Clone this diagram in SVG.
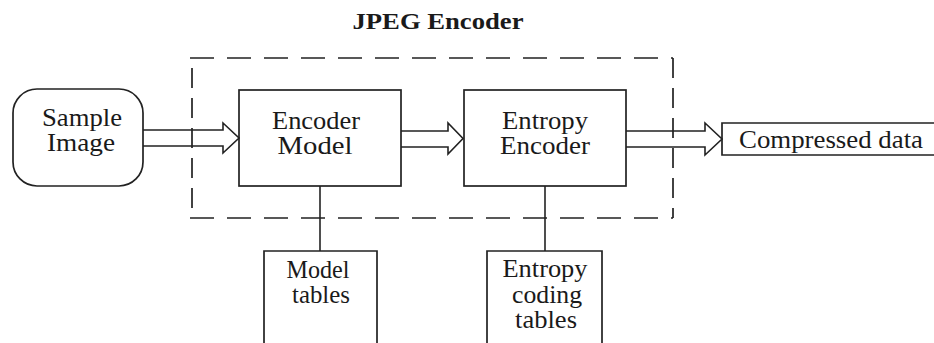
<svg xmlns="http://www.w3.org/2000/svg" width="934" height="343" viewBox="0 0 934 343">
<style>
.box{fill:none;stroke:#222;stroke-width:1.7}
.dash{fill:none;stroke:#222;stroke-width:1.7;stroke-dasharray:24 13}
.vdash{fill:none;stroke:#222;stroke-width:1.7;stroke-dasharray:20 10}
.conn{fill:none;stroke:#222;stroke-width:1.6;stroke-linejoin:miter}
.t{font-family:"Liberation Serif","Times New Roman",serif;font-size:25px;fill:#1a1a1a;text-anchor:middle}
.title{font-family:"Liberation Serif","Times New Roman",serif;font-size:24px;font-weight:bold;fill:#1a1a1a;text-anchor:middle}
</style>
<rect width="934" height="343" fill="#fff"/>
<g id="jpeg-encoder-boundary">
<text class="title" x="438" y="29" textLength="171" lengthAdjust="spacingAndGlyphs">JPEG Encoder</text>
<path class="dash" d="M190,58 H673"/>
<path class="dash" d="M190,218 H673"/>
<path class="vdash" d="M192,68 V218"/>
<path class="vdash" d="M673,58 V218"/>
</g>
<g id="sample-image">
<rect class="box" x="13" y="89" width="130" height="97" rx="24" ry="24"/>
<text class="t" x="82" y="126" textLength="80" lengthAdjust="spacingAndGlyphs">Sample</text>
<text class="t" x="81" y="151" textLength="68" lengthAdjust="spacingAndGlyphs">Image</text>
</g>
<g id="encoder-model">
<rect class="box" x="239" y="90" width="162" height="96"/>
<text class="t" x="316" y="129" textLength="88" lengthAdjust="spacingAndGlyphs">Encoder</text>
<text class="t" x="315" y="154" textLength="75" lengthAdjust="spacingAndGlyphs">Model</text>
</g>
<g id="entropy-encoder">
<rect class="box" x="464" y="90" width="162" height="96"/>
<text class="t" x="545" y="129" textLength="86" lengthAdjust="spacingAndGlyphs">Entropy</text>
<text class="t" x="545" y="154" textLength="90" lengthAdjust="spacingAndGlyphs">Encoder</text>
</g>
<g id="compressed-data">
<path class="box" d="M934,123 H722 V155 H934"/>
<text class="t" x="831" y="148" textLength="184" lengthAdjust="spacingAndGlyphs">Compressed data</text>
</g>
<g id="model-tables">
<path class="box" d="M264,343 V251 H377 V343"/>
<text class="t" x="318" y="278" textLength="63" lengthAdjust="spacingAndGlyphs">Model</text>
<text class="t" x="321" y="303" textLength="58" lengthAdjust="spacingAndGlyphs">tables</text>
</g>
<g id="entropy-coding-tables">
<path class="box" d="M487,343 V251 H602 V343"/>
<text class="t" x="545" y="277" textLength="85" lengthAdjust="spacingAndGlyphs">Entropy</text>
<text class="t" x="547" y="303" textLength="70" lengthAdjust="spacingAndGlyphs">coding</text>
<text class="t" x="546" y="328" textLength="62" lengthAdjust="spacingAndGlyphs">tables</text>
</g>
<g id="connectors">
<path class="conn" d="M143,130 H223 V123 L239,138 L223,153 V146 H143"/>
<path class="conn" d="M401,131 H448 V123 L463,138.5 L448,154 V147 H401"/>
<path class="conn" d="M626,131 H705 V123 L722,139 L705,155 V147 H626"/>
<path class="conn" d="M320,186 V251"/>
<path class="conn" d="M545,186 V251"/>
</g>
</svg>
